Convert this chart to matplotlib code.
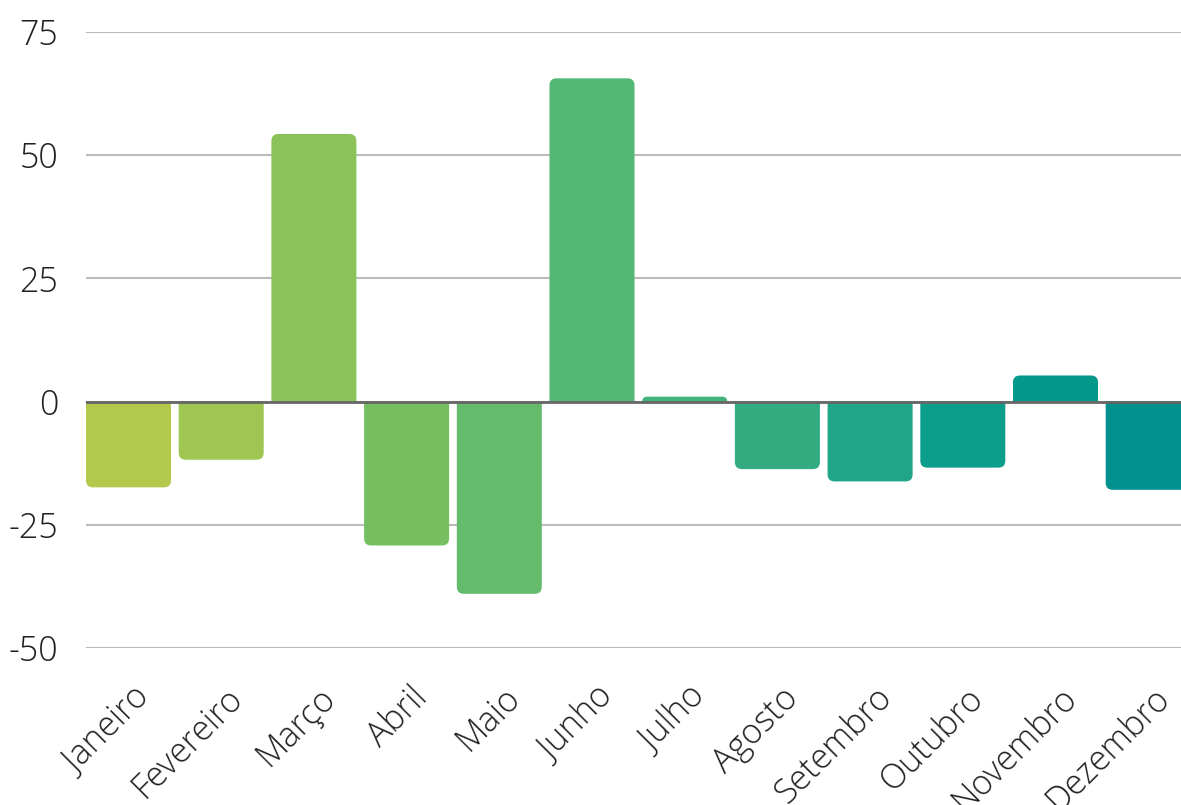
import matplotlib
matplotlib.use("Agg")
import matplotlib.pyplot as plt
from matplotlib.patches import PathPatch
from matplotlib.path import Path
from matplotlib.transforms import ScaledTranslation

months = ["Janeiro", "Fevereiro", "Março", "Abril", "Maio", "Junho",
          "Julho", "Agosto", "Setembro", "Outubro", "Novembro", "Dezembro"]
values = [-17.4, -11.8, 54.3, -29.2, -39.0, 65.6, 1.0, -13.7, -16.2, -13.4, 5.3, -17.9]
colors = ["#b2c94b", "#9fc653", "#8bc35a", "#76bf61", "#64bb6b", "#53b775",
          "#40b27a", "#32ab81", "#20a687", "#0b9f8b", "#04988a", "#00918e"]
yticks = [-50, -25, 0, 25, 50, 75]
ytick_labels = ["-50", "-25", "0", "25", "50", "75"]

W, H = 1181, 805
fig = plt.figure(figsize=(W / 100, H / 100), dpi=100)
left_px, right_px, top_px, bot_px = 86, 1181, 32, 648
ax = fig.add_axes([left_px / W, 1 - bot_px / H, (right_px - left_px) / W, (bot_px - top_px) / H])

slot_px = 92.7
bar_w = 85 / slot_px
xmin = -bar_w / 2
xmax = (right_px - left_px) / slot_px + xmin
ax.set_xlim(xmin, xmax)
ax.set_ylim(-50, 75)

x = list(range(len(months)))
bars = ax.bar(x, values, width=bar_w, color=colors, zorder=3)

# replace each bar by a path with rounded outer corners only
px_per_x = slot_px
px_per_y = (bot_px - top_px) / 125.0
r_px = 7
for b, c in zip(bars, colors):
    x0 = b.get_x()
    w = b.get_width()
    base = b.get_y()
    v = base + b.get_height()
    s = 1 if v >= base else -1
    rpx = min(r_px, abs(v - base) * px_per_y)
    rx = rpx / px_per_x
    ry = s * rpx / px_per_y
    verts = [(x0, base), (x0, v - ry), (x0, v), (x0 + rx, v),
             (x0 + w - rx, v), (x0 + w, v), (x0 + w, v - ry),
             (x0 + w, base), (x0, base)]
    codes = [Path.MOVETO, Path.LINETO, Path.CURVE3, Path.CURVE3,
             Path.LINETO, Path.CURVE3, Path.CURVE3,
             Path.LINETO, Path.CLOSEPOLY]
    ax.add_patch(PathPatch(Path(verts, codes), facecolor=c, edgecolor="none", zorder=3))
    b.set_visible(False)

ax.axhline(0, color="#666666", lw=2, zorder=4)

ax.set_yticks(yticks)
ax.set_yticklabels(ytick_labels)
ax.yaxis.grid(True, color="#bbbbbb", lw=1.5, zorder=0)
ax.set_axisbelow(True)
for sp in ax.spines.values():
    sp.set_visible(False)

fam = ["Open Sans Light", "Open Sans", "DejaVu Sans"]
fsize = 24.5
tcolor = "#222222"
ax.tick_params(axis="y", length=0, pad=20)
ax.tick_params(axis="x", length=0, pad=23.5)
for lab in ax.get_yticklabels():
    lab.set_fontfamily(fam); lab.set_fontsize(fsize)
    lab.set_fontweight("light"); lab.set_color(tcolor)

ax.set_xticks(x)
ax.set_xticklabels(months, rotation=45, ha="right", va="top", rotation_mode="anchor",
                   fontfamily=fam, fontsize=fsize, fontweight="light", color=tcolor)
offset = ScaledTranslation(4 / 100, 0, fig.dpi_scale_trans)
for lab in ax.get_xticklabels():
    lab.set_transform(lab.get_transform() + offset)

fig.savefig("out.png", dpi=100)
